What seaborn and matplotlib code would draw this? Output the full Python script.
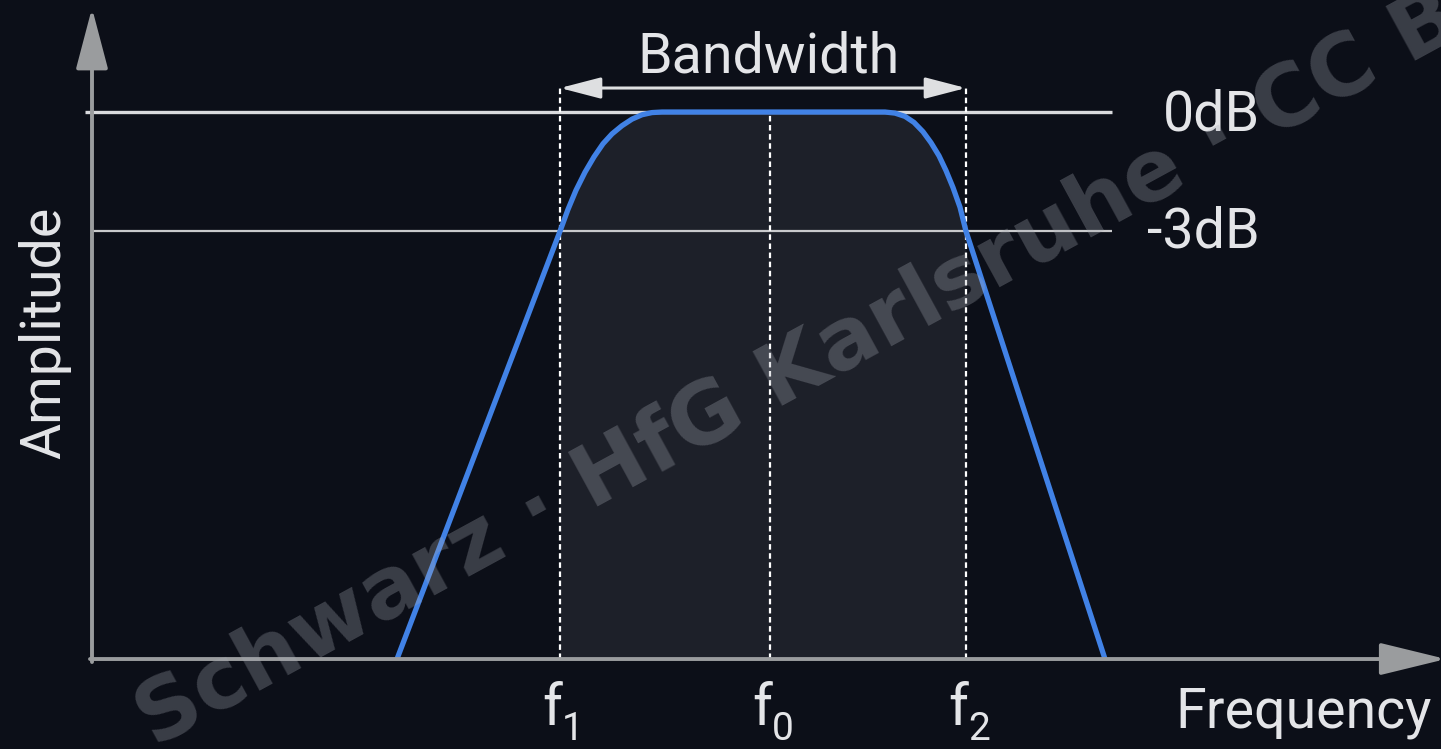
import matplotlib
matplotlib.use("Agg")
import matplotlib.pyplot as plt
import seaborn as sns

# Band-pass response: frequency in picture units, amplitude normalised to 0dB = 1
freq = [397, 560, 568, 576, 585, 594, 603, 612, 622, 632, 642, 652, 662,
        885, 895, 905, 914, 923, 931, 939, 946, 953, 960, 966, 1105]
amp = [0, 0.782, 0.822, 0.857, 0.89, 0.918, 0.942, 0.96, 0.975, 0.987,
       0.995, 0.999, 1.0,
       1.0, 0.998, 0.992, 0.981, 0.964, 0.944, 0.92, 0.893, 0.862, 0.826,
       0.782, 0]

marker_freqs = [560, 770, 966]
marker_subs = ["1", "0", "2"]
level_amps = [1.0, 0.782]
level_names = ["0dB", "-3dB"]
f_low, f_mid, f_high = marker_freqs

BG = "#0c0f18"
FG = "#e4e5e8"
AXIS = "#9a9c9e"
BLUE = "#4182e6"

sns.set_theme(style="dark", rc={"axes.facecolor": BG, "figure.facecolor": BG})
plt.rcParams["font.family"] = ["Roboto", "DejaVu Sans"]

fig = plt.figure(figsize=(14.41, 7.49), dpi=100)
ax = fig.add_axes([0, 0, 1, 1])
ax.set_xlim(0, 1441)
ax.set_ylim(-0.1645, 1.2048)
ax.axis("off")


def amp_of(py):
    # helper: pixel row -> amplitude units
    return (659 - py) / 547


# shaded pass band under the curve
band = [(f, a) for f, a in zip(freq, amp) if f_low <= f <= f_high]
ax.fill_between([b[0] for b in band], 0, [b[1] for b in band],
                color="#1d2029", zorder=1, linewidth=0)

# reference levels
ax.hlines(level_amps[0], 85, 1112, color="#d9dadd", lw=2.4, zorder=2)
ax.hlines(level_amps[1], 92, 1112, color="#c9cacc", lw=1.6, zorder=2)

# dotted markers
bw_y = amp_of(88)
ax.vlines([f_low, f_high], 0, bw_y, color="white", lw=1.6,
          linestyles=(0, (2.5, 1.6)), zorder=3)
ax.vlines(f_mid, 0, level_amps[0], color="white", lw=1.6,
          linestyles=(0, (2.5, 1.6)), zorder=3)

# curve
sns.lineplot(x=freq, y=amp, ax=ax, color=BLUE, lw=3.8, zorder=4,
             solid_capstyle="butt", solid_joinstyle="round")

# axes with arrow heads
ax.annotate("", xy=(92, amp_of(8)), xytext=(92, amp_of(662)),
            arrowprops=dict(arrowstyle="-|>,head_length=3.8,head_width=1.0",
                            mutation_scale=10, color=AXIS, lw=2.8,
                            shrinkA=0, shrinkB=0),
            annotation_clip=False, zorder=5)
ax.annotate("", xy=(1446, 0), xytext=(90, 0),
            arrowprops=dict(arrowstyle="-|>,head_length=4.1,head_width=1.0",
                            mutation_scale=10, color=AXIS, lw=2.8,
                            shrinkA=0, shrinkB=0),
            annotation_clip=False, zorder=5)

# bandwidth arrow
ax.annotate("", xy=(f_low, bw_y), xytext=(f_high, bw_y),
            arrowprops=dict(arrowstyle="<|-|>,head_length=2.5,head_width=0.65",
                            mutation_scale=10, color="#dedfe1", lw=2.2,
                            shrinkA=0, shrinkB=0), zorder=5)

# text
ax.text(768, amp_of(72), "Bandwidth", ha="center", va="baseline",
        fontsize=40, color=FG)
ax.text(1163, amp_of(130), level_names[0], ha="left", va="baseline",
        fontsize=40, color=FG)
ax.text(1147, amp_of(247), level_names[1], ha="left", va="baseline",
        fontsize=40, color=FG)
ax.text(1432, amp_of(727), "Frequency", ha="right", va="baseline",
        fontsize=40, color=FG)
ax.text(45, amp_of(333), "Amplitude", ha="center", va="center",
        rotation=90, fontsize=40, color=FG)

for f, s in zip(marker_freqs, marker_subs):
    ax.text(f + 2, amp_of(725), "f", ha="right", va="baseline",
            fontsize=41, color=FG)
    ax.text(f + 2, amp_of(748), s, ha="left", va="bottom",
            fontsize=28, color=FG)

# watermark
ax.text(155, amp_of(748), "Schwarz · HfG Karlsruhe · CC BY",
        rotation=28.6, rotation_mode="anchor", ha="left", va="baseline",
        fontsize=62, fontweight="bold", family="DejaVu Sans",
        color="#a6aab4", alpha=0.3, zorder=10)

fig.savefig("out.png", dpi=100, facecolor=BG)
